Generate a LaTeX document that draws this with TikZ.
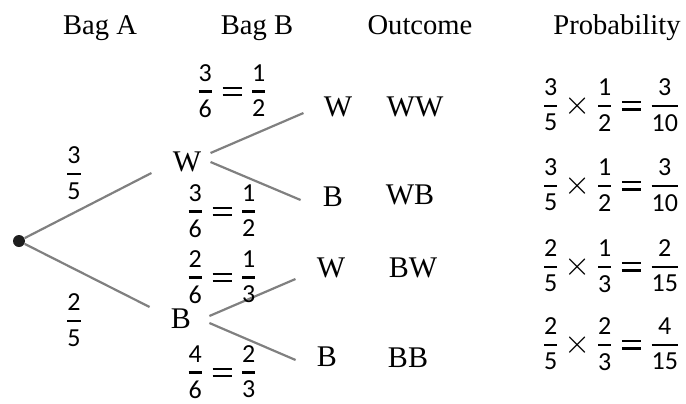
\documentclass[tikz,border=0pt]{standalone}
\usepackage{amsmath}
\usepackage{graphicx}
\usepackage{fontspec}
\setmainfont{Liberation Serif}
\newfontfamily\numfont{Carlito}
\usepackage{tikz}
\definecolor{trLine}{HTML}{808080}
\definecolor{trDot}{HTML}{1E1E1E}
\nulldelimiterspace=0.4pt
\newcommand{\dg}[1]{\text{\numfont\fontsize{13}{14}\selectfont #1}}
\newcommand{\fr}[2]{\genfrac{}{}{1.2pt}{0}{\dg{#1}}{\dg{#2}}}
\newcommand{\eq}{\mathrel{\kern1.6pt\vcenter{\hrule width 9.5pt height 1.1pt\kern2.6pt\hrule width 9.5pt height 1.1pt}\kern1.6pt}}
\newcommand{\tms}{\mathbin{\kern0.6pt\raisebox{-1.1pt}{\scalebox{1.4}{$\times$}}\kern0.6pt}}
\tikzset{
  head/.style={font=\fontsize{14.3}{17}\selectfont, anchor=base, inner sep=0pt},
  pick/.style={font=\fontsize{15}{18}\selectfont, inner sep=0pt},
  outc/.style={pick},
  prob/.style={font=\fontsize{11.5}{14}\selectfont, inner sep=0pt},
  branch/.style={line width=1.1pt, trLine},
  rootdot/.style={circle, fill=trDot, inner sep=0pt, minimum size=6pt}
}
\begin{document}
\begin{tikzpicture}[x=0.5pt, y=-0.5pt]
  \useasboundingbox (0,0) rectangle (686,403);
  % column headings
  \node[head] (hA) at (100,34) {Bag A};
  \node[head] (hB) at (257,34) {Bag B};
  \node[head] (hO) at (420,34) {Outcome};
  \node[head] (hP) at (617,34) {Probability};
  % tree
  \node[rootdot] (root) at (19,241) {};
  \node[pick] (W1) at (187,162) {W};
  \node[pick] (B1) at (181,319) {B};
  \node[pick] (W2) at (338,107) {W};
  \node[pick] (B2) at (333,197) {B};
  \node[pick] (W3) at (331,268) {W};
  \node[pick] (B3) at (327,357) {B};
  \draw[branch] (root) -- ([shift={(-21,11)}]W1.west);
  \draw[branch] (root) -- ([shift={(-21,-12)}]B1.west);
  \draw[branch] ([shift={(9,-9)}]W1.east) -- ([shift={(-20,6)}]W2.west);
  \draw[branch] ([shift={(9,0)}]W1.east) -- ([shift={(-22,3)}]B2.west);
  \draw[branch] ([shift={(18,-3)}]B1.east) -- ([shift={(-21,11)}]W3.west);
  \draw[branch] ([shift={(18,4)}]B1.east) -- ([shift={(-21,3)}]B3.west);
  % branch probabilities
  \node[prob] (pW1) at (74,173) {$\fr{3}{5}$};
  \node[prob] (pB1) at (74,320) {$\fr{2}{5}$};
  \node[prob] (pW2) at (232,91) {$\fr{3}{6}\eq\fr{1}{2}$};
  \node[prob] (pB2) at (222,211) {$\fr{3}{6}\eq\fr{1}{2}$};
  \node[prob] (pW3) at (222,277) {$\fr{2}{6}\eq\fr{1}{3}$};
  \node[prob] (pB3) at (222,372) {$\fr{4}{6}\eq\fr{2}{3}$};
  % outcomes
  \node[outc] (oWW) at (415,107) {WW};
  \node[outc] (oWB) at (410,195) {WB};
  \node[outc] (oBW) at (413,268) {BW};
  \node[outc] (oBB) at (408,358) {BB};
  % products
  \node[prob] (rWW) at (611,105) {$\fr{3}{5}\tms\fr{1}{2}\eq\fr{3}{10}$};
  \node[prob] (rWB) at (611,185) {$\fr{3}{5}\tms\fr{1}{2}\eq\fr{3}{10}$};
  \node[prob] (rBW) at (611,266) {$\fr{2}{5}\tms\fr{1}{3}\eq\fr{2}{15}$};
  \node[prob] (rBB) at (611,344) {$\fr{2}{5}\tms\fr{2}{3}\eq\fr{4}{15}$};
\end{tikzpicture}
\end{document}
